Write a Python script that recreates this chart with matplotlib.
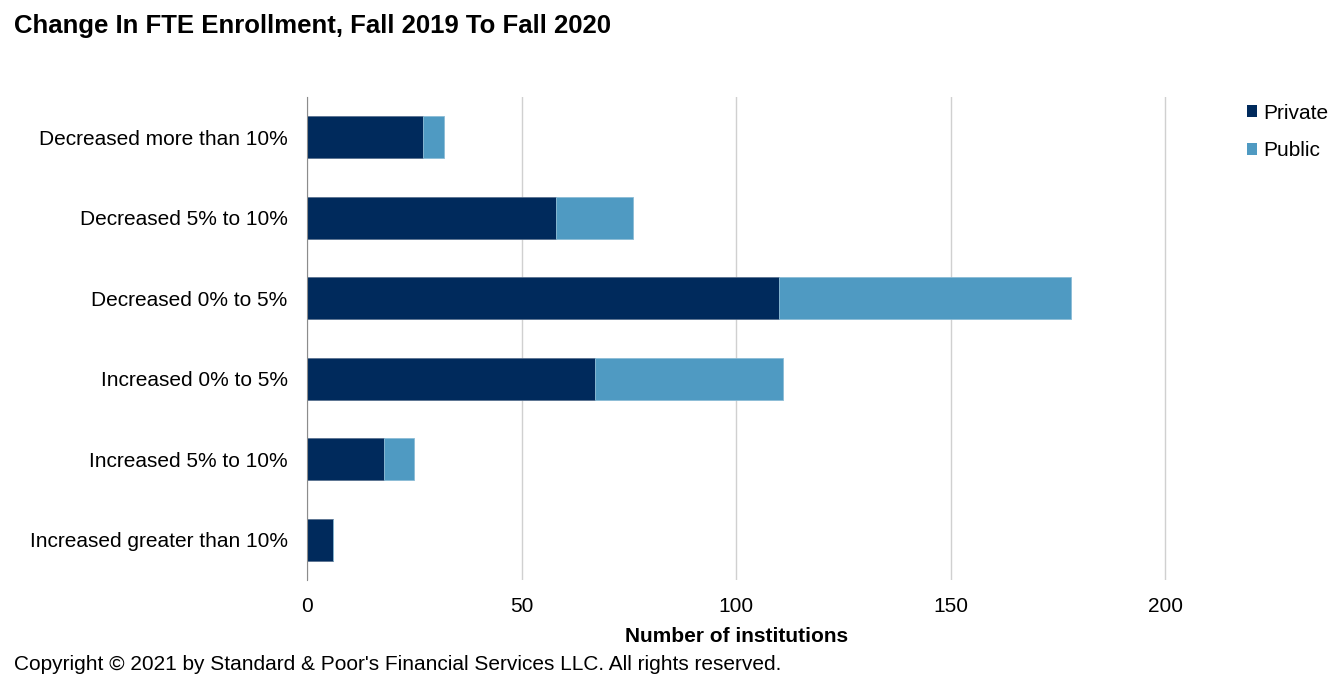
import numpy as np
import matplotlib.pyplot as plt
from matplotlib.patches import Patch

plt.rcParams.update({
    "font.family": ["Liberation Sans", "DejaVu Sans"],
    "font.size": 15,
})

# ---------------------------------------------------------------------
# DATA
# ---------------------------------------------------------------------
categories = [
    "Decreased more than 10%",
    "Decreased 5% to 10%",
    "Decreased 0% to 5%",
    "Increased 0% to 5%",
    "Increased 5% to 10%",
    "Increased greater than 10%",
]
private = [27, 58, 110, 67, 18, 6]
public = [5, 18, 68, 44, 7, 0]
x_ticks = [0, 50, 100, 150, 200]

COLOR_PRIVATE = '#002A5C'
COLOR_PUBLIC = '#4F9AC2'

# ---------------------------------------------------------------------
fig = plt.figure(figsize=(13.44, 6.92), dpi=100)
ax = fig.add_axes([307 / 1344, 1 - 580 / 692, 860 / 1344, 483 / 692])

y = np.arange(len(categories))
ax.barh(y, private, height=0.52, color=COLOR_PRIVATE,
        edgecolor='#5a7290', linewidth=0.6, zorder=3)
ax.barh(y, public, left=private, height=0.52, color=COLOR_PUBLIC,
        edgecolor='#8bbcd6', linewidth=0.6, zorder=3)

ax.set_ylim(len(categories) - 0.5, -0.5)
ax.set_yticks(y)
ax.set_yticklabels(categories, fontsize=15)

ax.set_xlim(0, 200.4)
ax.set_xticks(x_ticks)
ax.set_xticklabels([str(t) for t in x_ticks], fontsize=15)
ax.set_xlabel('Number of institutions', fontsize=15, fontweight='bold', labelpad=8)

ax.grid(axis='x', color='#d0d0d0', lw=1, zorder=0)
for s in ['top', 'right', 'bottom']:
    ax.spines[s].set_visible(False)
ax.spines['left'].set_color('#8c8c8c')
ax.spines['left'].set_zorder(4)
ax.tick_params(length=0, pad=14)
ax.tick_params(axis='x', pad=12)

fig.legend(handles=[
    Patch(facecolor=COLOR_PRIVATE, label='Private'),
    Patch(facecolor=COLOR_PUBLIC, label='Public'),
], loc='upper left', bbox_to_anchor=(1228 / 1344, 1 - 85 / 692),
    frameon=False, fontsize=15, handlelength=0.5, handleheight=0.5,
    handletextpad=0.3, labelspacing=0.9)

fig.text(14 / 1344, 1 - 26 / 692, 'Change In FTE Enrollment, Fall 2019 To Fall 2020',
         fontsize=18.5, fontweight='bold', va='center', ha='left')
fig.text(14 / 1344, 1 - 665 / 692,
         "Copyright \u00a9 2021 by Standard & Poor's Financial Services LLC. All rights reserved.",
         fontsize=15, va='center', ha='left')

fig.savefig('out.png', dpi=100)
